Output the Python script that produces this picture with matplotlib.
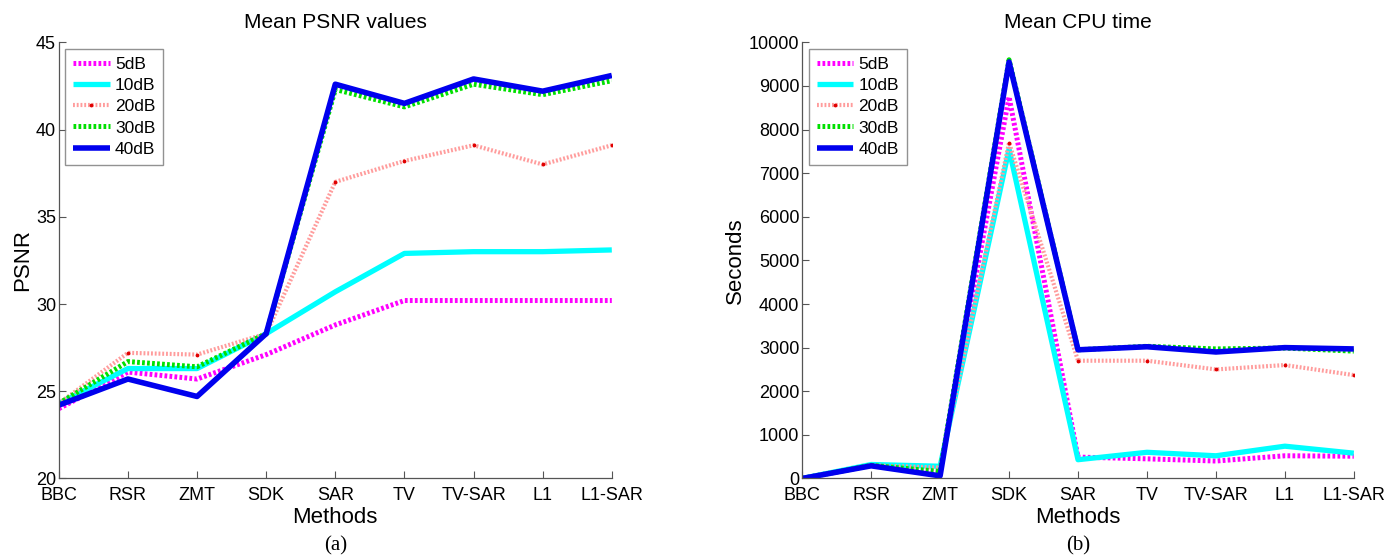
import matplotlib
matplotlib.use("Agg")
import matplotlib.pyplot as plt

methods = ["BBC", "RSR", "ZMT", "SDK", "SAR", "TV", "TV-SAR", "L1", "L1-SAR"]
snr_labels = ["5dB", "10dB", "20dB", "30dB", "40dB"]

# Mean PSNR per method, one list per noise level
psnr_5 = [24.0, 26.1, 25.7, 27.1, 28.8, 30.2, 30.2, 30.2, 30.2]
psnr_10 = [24.3, 26.3, 26.3, 28.3, 30.7, 32.9, 33.0, 33.0, 33.1]
psnr_20 = [24.3, 27.2, 27.1, 28.3, 37.0, 38.2, 39.1, 38.0, 39.1]
psnr_30 = [24.3, 26.7, 26.4, 28.3, 42.3, 41.3, 42.6, 42.0, 42.8]
psnr_40 = [24.2, 25.7, 24.7, 28.3, 42.6, 41.5, 42.9, 42.2, 43.1]

# Mean CPU time (seconds) per method
cpu_5 = [0, 300, 200, 8750, 490, 450, 400, 520, 510]
cpu_10 = [0, 320, 280, 7550, 430, 600, 520, 740, 580]
cpu_20 = [0, 300, 250, 7700, 2700, 2700, 2500, 2600, 2370]
cpu_30 = [0, 300, 160, 9600, 2950, 3030, 2970, 2990, 2920]
cpu_40 = [0, 290, 60, 9550, 2950, 3020, 2900, 3000, 2970]

styles = [
    dict(color="#ff00ff", lw=3.6, ls=(0, (0.55, 0.45))),
    dict(color="#00ffff", lw=3.8, ls="-"),
    dict(color="#ff9c9c", lw=3.0, ls=(0, (0.45, 0.45)),
         marker=".", markersize=3.5, markerfacecolor="#e00000", markeredgecolor="#e00000"),
    dict(color="#00e000", lw=3.6, ls=(0, (0.55, 0.45))),
    dict(color="#0000ee", lw=4.0, ls="-"),
]

plt.rcParams["font.family"] = ["Liberation Sans", "DejaVu Sans"]

fig = plt.figure(figsize=(14, 5.57), dpi=100)
ax1 = fig.add_axes([0.042, 0.141, 0.395, 0.783])
ax2 = fig.add_axes([0.573, 0.141, 0.394, 0.783])

x = list(range(len(methods)))


def draw(ax, series, ylim, yticks, ylabel, title, tag):
    for vals, lab, st in zip(series, snr_labels, styles):
        ax.plot(x, vals, label=lab, solid_capstyle="butt", dash_capstyle="butt", **st)
    ax.set_xlim(0, len(methods) - 1)
    ax.set_ylim(*ylim)
    ax.set_xticks(x)
    ax.set_xticklabels(methods, fontsize=13)
    ax.set_yticks(yticks)
    ax.tick_params(axis="y", labelsize=13, pad=2)
    ax.tick_params(axis="x", pad=6)
    ax.tick_params(direction="in", length=5, color="#555555", width=0.8)
    for s in ("top", "right"):
        ax.spines[s].set_visible(False)
    for s in ("left", "bottom"):
        ax.spines[s].set_color("#555555")
        ax.spines[s].set_linewidth(0.9)
    ax.set_xlabel("Methods", fontsize=16, labelpad=2)
    ax.set_ylabel(ylabel, fontsize=16, labelpad=2)
    ax.set_title(title, fontsize=15, pad=10)
    leg = ax.legend(loc="upper left", fontsize=12.5, frameon=True, fancybox=False,
                    handlelength=2.1, handletextpad=0.3, labelspacing=0.35,
                    borderpad=0.45, borderaxespad=0.0,
                    bbox_to_anchor=(0.012, 0.985))
    leg.get_frame().set_edgecolor("#777777")
    leg.get_frame().set_linewidth(1.0)
    ax.text(0.5, -0.132, tag, transform=ax.transAxes, ha="center", va="top",
            fontsize=15, family=["Liberation Serif", "DejaVu Serif"])


draw(ax1, [psnr_5, psnr_10, psnr_20, psnr_30, psnr_40], (20, 45),
     [20, 25, 30, 35, 40, 45], "PSNR", "Mean PSNR values", "(a)")
draw(ax2, [cpu_5, cpu_10, cpu_20, cpu_30, cpu_40], (0, 10000),
     list(range(0, 10001, 1000)), "Seconds", "Mean CPU time", "(b)")

fig.savefig("out.png", dpi=100)
